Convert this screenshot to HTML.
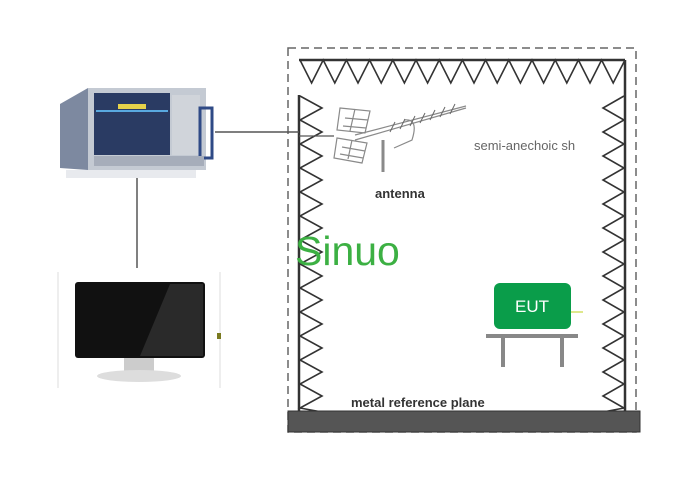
<!DOCTYPE html>
<html><head><meta charset="utf-8"><style>body{margin:0;background:#fff}svg{display:block}</style></head><body>
<svg width="700" height="500" xmlns="http://www.w3.org/2000/svg" font-family="Liberation Sans, sans-serif">
<rect x="288" y="48" width="348" height="384" fill="none" stroke="#666" stroke-width="1.5" stroke-dasharray="8,5"/>
<line x1="299" y1="60" x2="625" y2="60" stroke="#333" stroke-width="2.5"/>
<line x1="299" y1="95" x2="299" y2="412" stroke="#333" stroke-width="2.5"/>
<line x1="625" y1="60" x2="625" y2="412" stroke="#333" stroke-width="2.5"/>
<polyline fill="none" stroke="#333" stroke-width="1.6" points="300,60 311.6,83 323.2,60 334.8,83 346.4,60 358,83 369.6,60 381.2,83 392.8,60 404.4,83 416,60 427.6,83 439.2,60 450.8,83 462.4,60 474,83 485.6,60 497.2,83 508.8,60 520.4,83 532,60 543.6,83 555.2,60 566.8,83 578.4,60 590,83 601.6,60 613.2,83 625,60"/>
<polyline fill="none" stroke="#333" stroke-width="1.6" points="300,96 322,108 300,120 322,132 300,144 322,156 300,168 322,180 300,192 322,204 300,216 322,228 300,240 322,252 300,264 322,276 300,288 322,300 300,312 322,324 300,336 322,348 300,360 322,372 300,384 322,396 300,408 322,412"/>
<polyline fill="none" stroke="#333" stroke-width="1.6" points="624,96 603,108 624,120 603,132 624,144 603,156 624,168 603,180 624,192 603,204 624,216 603,228 624,240 603,252 624,264 603,276 624,288 603,300 624,312 603,324 624,336 603,348 624,360 603,372 624,384 603,396 624,408 603,412"/>
<rect x="288" y="411" width="352" height="21" fill="#555" stroke="#333"/>
<!-- antenna -->
<g stroke="#8a8a8a" stroke-width="1.2" fill="none">
<line x1="355" y1="135" x2="466" y2="106"/>
<line x1="355" y1="140" x2="466" y2="108"/>
<path d="M404 120 q15 -2 8 20 l-18 8"/>
<line x1="383" y1="140" x2="383" y2="172" stroke-width="3"/>
<path d="M340 108 l30 3 l-5 22 l-28 -3z M337 138 l30 5 l-5 20 l-28 -5z"/>
<line x1="345" y1="118" x2="368" y2="120"/><line x1="343" y1="126" x2="366" y2="128"/>
<line x1="342" y1="147" x2="365" y2="151"/><line x1="340" y1="154" x2="363" y2="158"/>
<line x1="355" y1="109" x2="350" y2="131"/><line x1="352" y1="140" x2="348" y2="159"/>
</g>
<g stroke="#666" stroke-width="1">
<line x1="395" y1="122" x2="390" y2="132"/><line x1="405" y1="119" x2="400" y2="129"/><line x1="415" y1="116" x2="410" y2="126"/><line x1="425" y1="113" x2="420" y2="123"/><line x1="435" y1="110" x2="430" y2="120"/><line x1="445" y1="107" x2="440" y2="117"/><line x1="455" y1="104" x2="450" y2="114"/>
</g>
<line x1="299" y1="136" x2="334" y2="136" stroke="#555" stroke-width="1.2"/>
<text x="474" y="150" font-size="13" fill="#666">semi-anechoic sh</text>
<text x="375" y="198" font-size="13" font-weight="bold" fill="#333">antenna</text>
<text x="351" y="407" font-size="13" font-weight="bold" fill="#333">metal reference plane</text>
<text x="295" y="265" font-size="41" fill="#3cb043">Sinuo</text>
<!-- EUT -->
<rect x="494" y="283" width="77" height="46" rx="6" fill="#0a9d4a"/>
<text x="532" y="312" font-size="17" fill="#fff" text-anchor="middle">EUT</text>
<line x1="571" y1="312" x2="583" y2="312" stroke="#c8d840" stroke-width="1.2"/>
<rect x="486" y="334" width="92" height="4" fill="#888"/>
<rect x="501" y="338" width="4" height="29" fill="#888"/>
<rect x="560" y="338" width="4" height="29" fill="#888"/>
<!-- connections -->
<line x1="215" y1="132" x2="299" y2="132" stroke="#555" stroke-width="1.5"/>
<line x1="137" y1="174" x2="137" y2="268" stroke="#555" stroke-width="1.5"/>
<!-- analyzer -->
<polygon points="60,104 88,88 88,170 60,168" fill="#7d89a0"/>
<rect x="88" y="88" width="118" height="82" fill="#c4cad3"/>
<rect x="94" y="93" width="76" height="62" fill="#2a3b63"/>
<rect x="96" y="110" width="72" height="2" fill="#59a9e0"/>
<rect x="118" y="104" width="28" height="5" fill="#e6d24a"/>
<rect x="172" y="95" width="28" height="60" fill="#d0d4da"/>
<rect x="200" y="108" width="12" height="50" fill="none" stroke="#2f4a86" stroke-width="3"/>
<rect x="94" y="156" width="110" height="10" fill="#a6adba"/>
<rect x="66" y="170" width="130" height="8" fill="#e8eaee"/>
<!-- monitor -->
<line x1="58" y1="272" x2="58" y2="388" stroke="#ddd"/>
<line x1="220" y1="272" x2="220" y2="388" stroke="#ddd"/>
<rect x="75" y="282" width="130" height="76" rx="3" fill="#111"/>
<polygon points="170,284 203,284 203,356 140,356" fill="#2a2a2a"/>
<rect x="124" y="358" width="30" height="14" fill="#ccc"/>
<ellipse cx="139" cy="376" rx="42" ry="6" fill="#ddd"/>
<rect x="217" y="333" width="4" height="6" fill="#7a7a20"/>
</svg>
</body></html>
